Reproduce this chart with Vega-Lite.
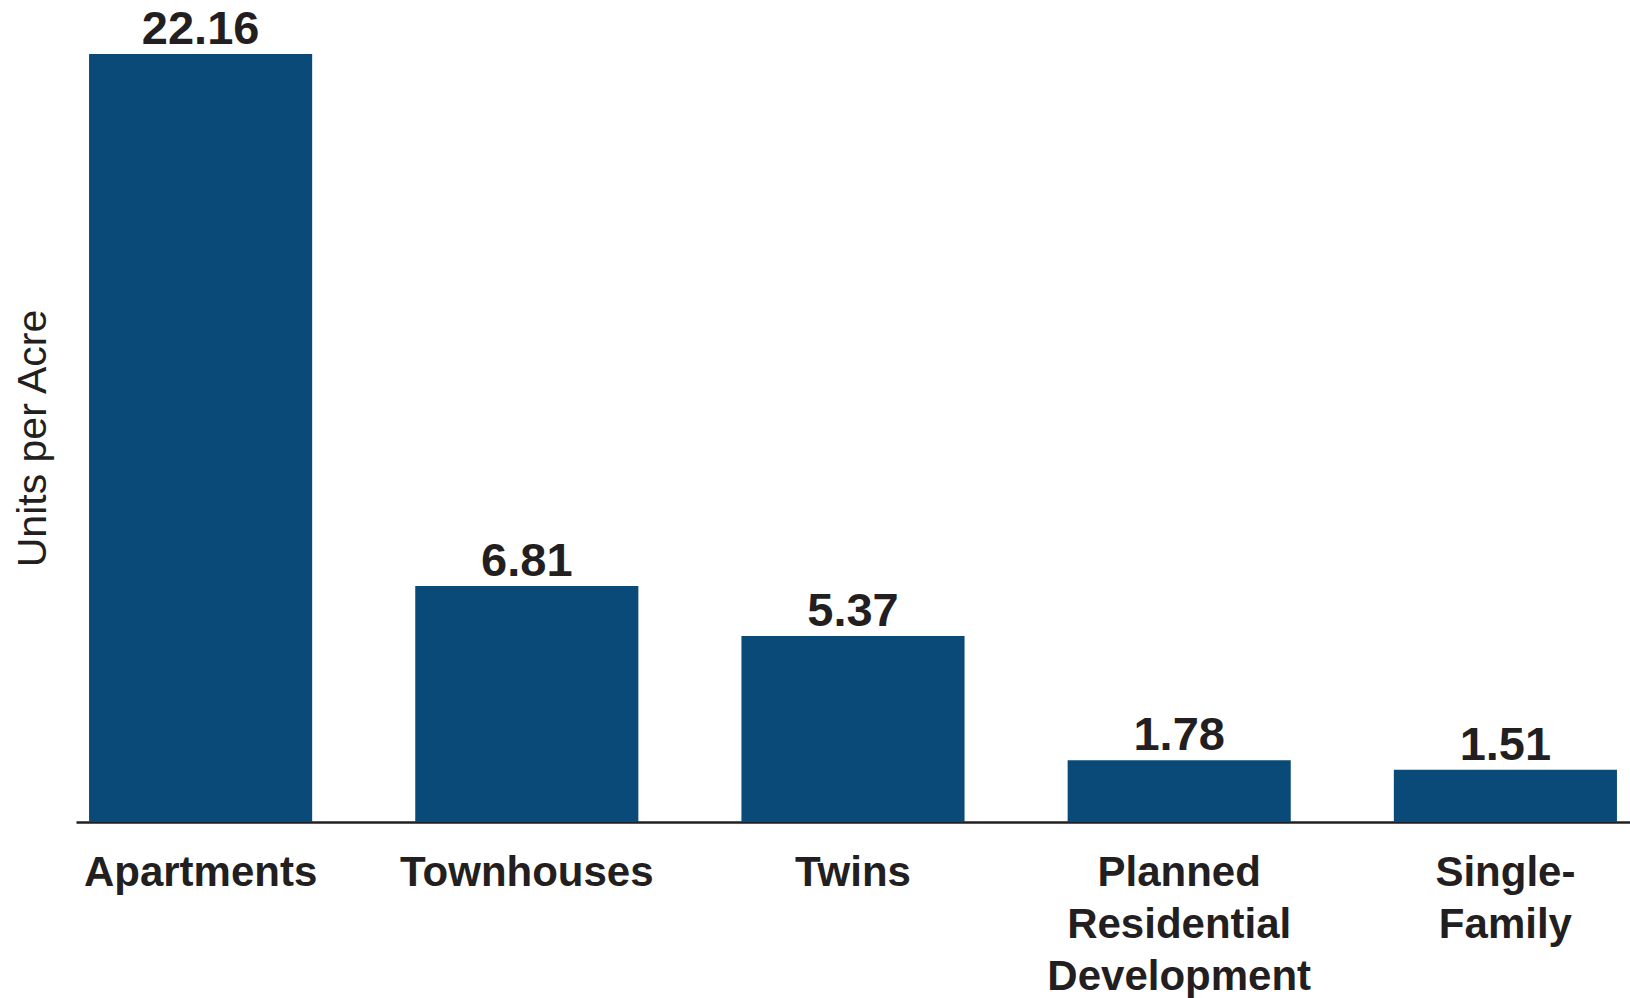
{
  "$schema": "https://vega.github.io/schema/vega-lite/v6.json",
  "autosize": "none",
  "width": 1554,
  "height": 768,
  "padding": {"left": 76, "top": 54, "right": 0, "bottom": 176},
  "background": "white",
  "config": {"view": {"stroke": null}, "font": "Liberation Sans"},
  "data": {"values": [
    {"type": "Apartments", "units": 22.16},
    {"type": "Townhouses", "units": 6.81},
    {"type": "Twins", "units": 5.37},
    {"type": "Planned Residential Development", "units": 1.78},
    {"type": "Single-Family", "units": 1.51}
  ]},
  "encoding": {
    "x": {
      "field": "type", "type": "nominal", "sort": null,
      "scale": {"paddingInner": 0.316, "paddingOuter": 0.04},
      "axis": {
        "title": null, "labelAngle": 0, "ticks": false,
        "domainColor": "#231f20", "domainWidth": 2.5,
        "labelFont": "Liberation Sans", "labelFontWeight": "bold", "labelFontSize": 42,
        "labelColor": "#231f20", "labelPadding": 30, "labelLineHeight": 52,
        "labelBaseline": "top", "labelLimit": 0,
        "labelExpr": "datum.value == 'Planned Residential Development' ? ['Planned', 'Residential', 'Development'] : datum.value == 'Single-Family' ? ['Single-', 'Family'] : datum.label"
      }
    },
    "y": {
      "field": "units", "type": "quantitative",
      "scale": {"domain": [0, 22.16], "nice": false},
      "axis": {
        "title": "Units per Acre", "domain": false, "ticks": false, "labels": false, "grid": false,
        "titleFont": "Liberation Sans", "titleFontWeight": "normal", "titleFontSize": 41,
        "titleColor": "#231f20", "titleX": -43, "titleY": 384, "titleAngle": 270,
        "titleAlign": "center", "titleBaseline": "middle"
      }
    }
  },
  "layer": [
    {"mark": {"type": "bar", "color": "#094a79"}},
    {
      "mark": {"type": "text", "baseline": "alphabetic", "dy": -10, "fontSize": 47, "fontWeight": "bold", "color": "#231f20", "font": "Liberation Sans"},
      "encoding": {"text": {"field": "units", "type": "quantitative", "format": ".2f"}}
    }
  ]
}
